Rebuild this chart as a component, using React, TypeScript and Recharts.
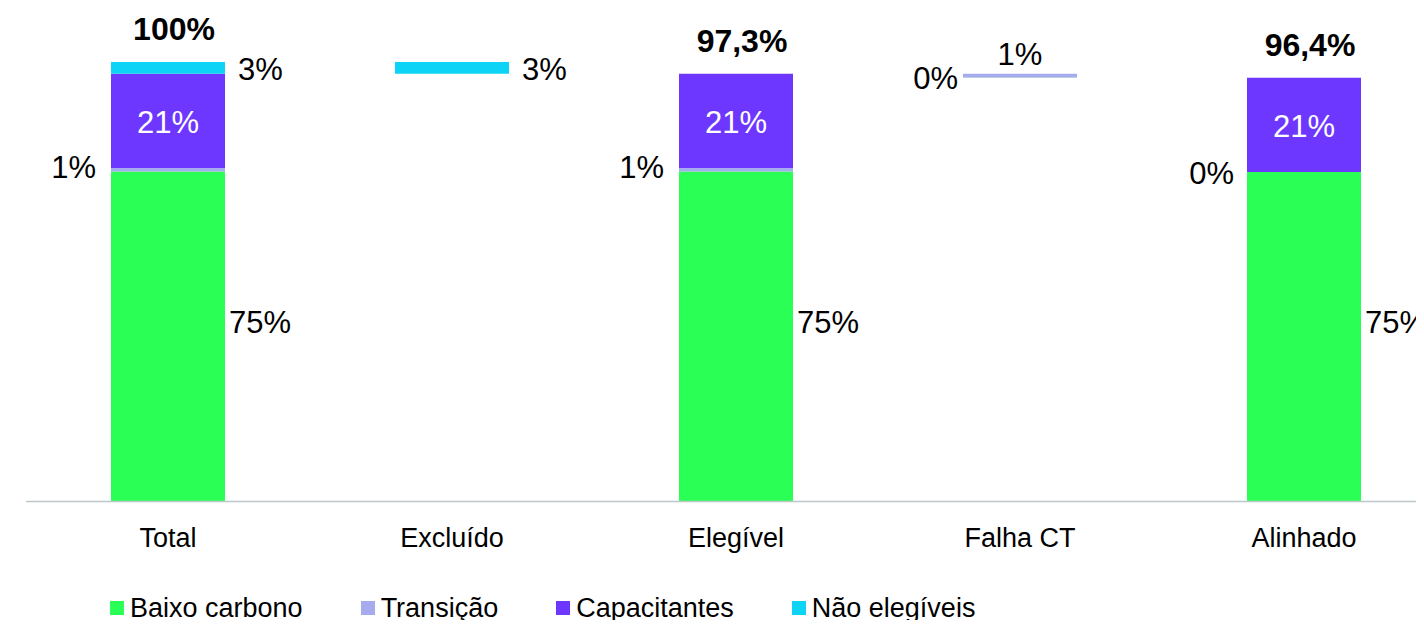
import React from "react";
import { BarChart, Bar, XAxis, YAxis, LabelList } from "recharts";

const categories = ["Total", "Excluído", "Elegível", "Falha CT", "Alinhado"];
const baseValues = [0, 97.3, 0, 96.4, 0];
const baixoCarbono = [75.1, 0, 75.1, 0.1, 75.0];
const transicao = [0.8, 0, 0.8, 0.8, 0];
const capacitantes = [21.4, 0, 21.4, 0, 21.4];
const naoElegiveis = [2.7, 2.7, 0, 0, 0];
const totals: (number | null)[] = [100, null, 97.3, null, 96.4];

const seriesNames = ["Baixo carbono", "Transição", "Capacitantes", "Não elegíveis"];
const COLORS = ["#2AFF56", "#A6AAEE", "#6E37FF", "#0DD4F7"];

const data = categories.map((name, i) => ({
  name,
  base: baseValues[i],
  baixo: baixoCarbono[i],
  transicao: transicao[i],
  capacitantes: capacitantes[i],
  nao: naoElegiveis[i],
}));

const stackSeries = [baixoCarbono, transicao, capacitantes, naoElegiveis];
// index of the topmost non-zero series for each category
const topSeries = categories.map((_, i) => {
  let top = -1;
  stackSeries.forEach((s, k) => {
    if (s[i] > 0) top = k;
  });
  return top;
});

const FONT = "'Liberation Sans', Arial, sans-serif";
const LABEL_SIZE = 31;

const pct = (v: number) => `${Math.round(v)}%`;
const fmtTotal = (v: number) =>
  Number.isInteger(v) ? `${v}%` : `${v.toFixed(1).replace(".", ",")}%`;

function box(p: any) {
  const vb = p.viewBox || {};
  return {
    x: Number(vb.x ?? p.x),
    y: Number(vb.y ?? p.y),
    w: Number(vb.width ?? p.width),
    h: Number(vb.height ?? p.height),
  };
}

function catIndex(p: any) {
  let i = categories.indexOf(p.value);
  if (i < 0 && p.payload && p.payload.name) i = categories.indexOf(p.payload.name);
  return i;
}

const txt = (x: number, y: number, s: string, anchor: string, extra: any = {}) => (
  <text
    x={x}
    y={y}
    textAnchor={anchor as any}
    dominantBaseline="central"
    fontFamily={FONT}
    fontSize={LABEL_SIZE}
    fill="#000"
    {...extra}
  >
    {s}
  </text>
);

const totalText = (i: number, b: any) => {
  const t = totals[i];
  if (t == null) return null;
  return txt(b.x + b.w / 2 + 6, b.y - 33, fmtTotal(t), "middle", {
    fontWeight: 700,
    fontSize: 32,
  });
};

const withTotal = (k: number, i: number, b: any, el: any) => (
  <g>
    {el}
    {topSeries[i] === k ? totalText(i, b) : null}
  </g>
);

const baixoLabel = (p: any) => {
  const i = catIndex(p);
  if (i < 0) return null;
  const v = baixoCarbono[i];
  if (!(v > 0)) return null;
  const b = box(p);
  const el =
    baseValues[i] > 0
      ? txt(b.x - 5, b.y + b.h / 2 + 1, pct(v), "end")
      : txt(b.x + b.w + 4, b.y + b.h / 2 - 14, pct(v), "start");
  return withTotal(0, i, b, el);
};

const transLabel = (p: any) => {
  const i = catIndex(p);
  if (i < 0 || !(baixoCarbono[i] > 0)) return null;
  const b = box(p);
  const el =
    baseValues[i] > 0
      ? txt(b.x + b.w / 2, b.y - 19, pct(transicao[i]), "middle")
      : txt(b.x - 15, b.y + b.h / 2 - 2, pct(transicao[i]), "end");
  return withTotal(1, i, b, el);
};

const capLabel = (p: any) => {
  const i = catIndex(p);
  if (i < 0) return null;
  const v = capacitantes[i];
  if (!(v > 0)) return null;
  const b = box(p);
  const el = txt(b.x + b.w / 2, b.y + b.h / 2 + 2, pct(v), "middle", { fill: "#fff" });
  // a zero-height "Transição" segment sits at the bottom of this one: label it here
  const zeroTrans =
    transicao[i] === 0 && baixoCarbono[i] > 0
      ? txt(b.x - 13, b.y + b.h + 2, pct(transicao[i]), "end")
      : null;
  return withTotal(
    2,
    i,
    b,
    <g>
      {el}
      {zeroTrans}
    </g>
  );
};

const naoLabel = (p: any) => {
  const i = catIndex(p);
  if (i < 0) return null;
  const v = naoElegiveis[i];
  if (!(v > 0)) return null;
  const b = box(p);
  const el = txt(b.x + b.w + 13, b.y + b.h / 2 + 2, pct(v), "start");
  return withTotal(3, i, b, el);
};

const LegendHtml = () => (
  <div
    style={{
      position: "absolute",
      left: 110,
      top: 593,
      display: "flex",
      alignItems: "center",
      gap: 58,
      fontFamily: FONT,
      fontSize: 27,
      lineHeight: "30px",
      color: "#000",
      whiteSpace: "nowrap",
    }}
  >
    {seriesNames.map((n, i) => (
      <div key={n} style={{ display: "flex", alignItems: "center" }}>
        <span
          style={{
            display: "inline-block",
            width: 14,
            height: 14,
            background: COLORS[i],
            marginRight: 6,
          }}
        />
        <span>{n}</span>
      </div>
    ))}
  </div>
);

export default function App() {
  return (
    <div
      style={{
        margin: -8,
        width: 1424,
        height: 628,
        overflow: "hidden",
        position: "relative",
        background: "#fff",
      }}
    >
      <BarChart
        width={1446}
        height={628}
        data={data}
        margin={{ top: 62, right: 0, left: 26, bottom: 96.5 }}
        barSize={114}
      >
        <XAxis
          dataKey="name"
          height={30}
          tickLine={false}
          tickSize={6}
          tickMargin={20}
          axisLine={{ stroke: "#BCC8C8", strokeWidth: 1.5 }}
          tick={{ fill: "#000", fontSize: 27, fontFamily: FONT }}
          interval={0}
        />
        <YAxis hide type="number" domain={[0, 100]} />
        <Bar dataKey="base" stackId="a" fill="transparent" legendType="none" isAnimationActive={false} />
        <Bar dataKey="baixo" stackId="a" fill={COLORS[0]} isAnimationActive={false}>
          <LabelList dataKey="name" content={baixoLabel} />
        </Bar>
        <Bar dataKey="transicao" stackId="a" fill={COLORS[1]} isAnimationActive={false}>
          <LabelList dataKey="name" content={transLabel} />
        </Bar>
        <Bar dataKey="capacitantes" stackId="a" fill={COLORS[2]} isAnimationActive={false}>
          <LabelList dataKey="name" content={capLabel} />
        </Bar>
        <Bar dataKey="nao" stackId="a" fill={COLORS[3]} isAnimationActive={false}>
          <LabelList dataKey="name" content={naoLabel} />
        </Bar>
      </BarChart>
      <LegendHtml />
    </div>
  );
}
